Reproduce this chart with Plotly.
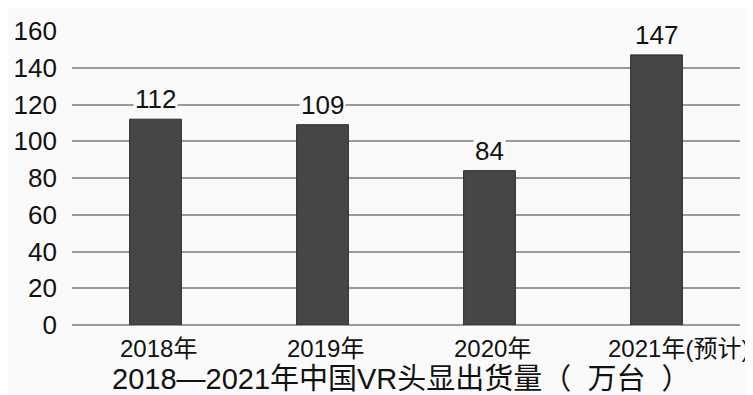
import plotly.graph_objects as go

categories = ["2018年", "2019年", "2020年", "2021年(预计)"]
values = [112, 109, 84, 147]
y_ticks = [0, 20, 40, 60, 80, 100, 120, 140, 160]
title_text = "2018—2021年中国VR头显出货量（\u00a0\u00a0万台\u00a0\u00a0）"

FONT = "Liberation Sans, Arial, Noto Sans CJK SC, sans-serif"
BG = "#fafafa"

fig = go.Figure()
fig.add_trace(go.Bar(
    x=categories, y=values,
    marker=dict(color="#464646", line=dict(color="#2a2a2a", width=1)),
    width=0.31,
))

# value labels with background covering gridlines
for c, v in zip(categories, values):
    fig.add_annotation(x=c, y=v, text=str(v), showarrow=False,
                       yanchor="bottom", yshift=3, bgcolor=BG,
                       font=dict(family=FONT, size=26, color="#111"),
                       borderpad=1)

# category labels
for i, c in enumerate(categories):
    last = i == len(categories) - 1
    fig.add_annotation(x=c, y=0, yref="y", text=c, showarrow=False,
                       xanchor="right" if last else "center",
                       xshift=94 if last else 3,
                       yanchor="middle", yshift=-23,
                       font=dict(family=FONT, size=24, color="#111"))

fig.add_annotation(xref="paper", yref="paper", x=0.494, y=0, yshift=-54,
                   text=title_text, showarrow=False, yanchor="middle",
                   font=dict(family=FONT, size=29, color="#111"))

fig.update_layout(
    width=745, height=387,
    margin=dict(l=64, r=13, t=23, b=70, autoexpand=False),
    paper_bgcolor=BG, plot_bgcolor=BG,
    showlegend=False,
    xaxis=dict(range=[-0.5, len(categories) - 0.5], autorange=False,
               showgrid=False, showline=False, ticks="", showticklabels=False),
    yaxis=dict(range=[0, 160], tickvals=y_ticks, showgrid=True,
               gridcolor="#9a9a9a", gridwidth=1.5, zeroline=True,
               zerolinecolor="#9a9a9a", zerolinewidth=1.5,
               ticks="", ticklen=0, ticklabelstandoff=14,
               tickfont=dict(family=FONT, size=26, color="#111")),
)

fig.write_html("out.html")
